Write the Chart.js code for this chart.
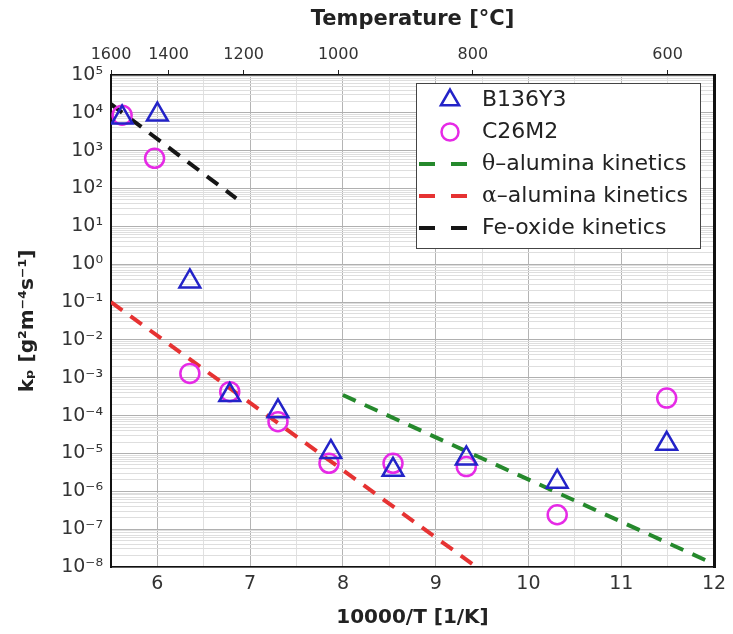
<!DOCTYPE html>
<html>
<head>
<meta charset="utf-8">
<script src="https://cdn.jsdelivr.net/npm/chart.js@4.4.1/dist/chart.umd.min.js"></script>
<style>
  html, body { margin: 0; padding: 0; background: #fff; }
  #wrap { width: 733px; height: 634px; }
</style>
</head>
<body>
<div id="wrap"><canvas id="chart"></canvas></div>
<script>
const FONT = "'DejaVu Sans', 'Liberation Sans', sans-serif";

// measured points, x = 10000/T, y = kp
const B136Y3_X = [5.62, 6.0, 6.35, 6.78, 7.3, 7.87, 8.54, 9.33, 10.31, 11.49];
const B136Y3_Y = [7.5e3, 9e3, 0.35, 3.5e-4, 1.3e-4, 1.1e-5, 3.7e-6, 7.4e-6, 1.8e-6, 1.8e-5];
const C26M2_X = [5.62, 5.97, 6.35, 6.78, 7.3, 7.85, 8.54, 9.33, 10.31, 11.49];
const C26M2_Y = [8.7e3, 630, 1.3e-3, 4.3e-4, 6.9e-5, 5.5e-6, 5.5e-6, 4.5e-6, 2.4e-7, 2.9e-4];

// kinetics lines (end points)
const THETA_X = [8.0, 12.0];
const THETA_Y = [3.5e-4, 1.2e-8];
const ALPHA_X = [5.5, 9.44];
const ALPHA_Y = [0.1, 1e-8];
const FEOX_X = [5.5, 6.85];
const FEOX_Y = [1.7e4, 55];

// top axis (temperature) labels and where they sit on the 10000/T axis
const TEMP_LABELS = ['1600', '1400', '1200', '1000', '800', '600'];
const TEMP_TICK_POS = [5.5, 6.12, 6.93, 7.95, 9.4, 11.5];

const Y_MIN_EXP = -8;
const Y_MAX_EXP = 5;

const SUP = { '0': '⁰', '1': '¹', '2': '²', '3': '³', '4': '⁴', '5': '⁵', '6': '⁶', '7': '⁷', '8': '⁸', '9': '⁹', '-': '⁻' };
const sup = (s) => String(s).split('').map((c) => SUP[c]).join('');
const xy = (xs, ys) => xs.map((x, i) => ({ x: x, y: ys[i] }));
const isDecade = (v) => {
  const e = Math.round(Math.log10(v));
  return Math.abs(v / Math.pow(10, e) - 1) < 1e-6;
};

// legend drawn inside the plot, with a box like the original
const boxLegend = {
  id: 'boxLegend',
  afterDatasetsDraw(chart) {
    const ctx = chart.ctx;
    const left = 416, top = 83, right = 700, bottom = 248;
    ctx.save();
    ctx.fillStyle = '#fff';
    ctx.fillRect(left, top, right - left, bottom - top);
    ctx.strokeStyle = '#444';
    ctx.lineWidth = 1;
    ctx.strokeRect(left + 0.5, top + 0.5, right - left, bottom - top);

    chart.data.datasets.forEach((ds, i) => {
      const cy = 100 + i * 32;
      ctx.strokeStyle = ds.borderColor;
      ctx.setLineDash([]);
      if (ds.showLine) {
        ctx.lineWidth = ds.borderWidth;
        ctx.beginPath();
        ctx.moveTo(419, cy); ctx.lineTo(435, cy);
        ctx.moveTo(451, cy); ctx.lineTo(467, cy);
        ctx.stroke();
      } else {
        ctx.fillStyle = 'rgba(0,0,0,0)';
        ctx.lineWidth = ds.pointBorderWidth;
        Chart.helpers.drawPoint(ctx, {
          pointStyle: ds.pointStyle,
          radius: ds.pointStyle === 'triangle' ? 10.5 : 8.5,
          borderWidth: ds.pointBorderWidth,
          rotation: 0
        }, 450, cy);
      }
      ctx.fillStyle = '#222';
      ctx.textBaseline = 'middle';
      let tx = 482;
      let text = ds.label;
      if (/^[θα]/.test(text)) {
        ctx.font = "22px 'DejaVu Serif', serif";
        ctx.fillText(text[0], tx, cy);
        tx += ctx.measureText(text[0]).width;
        text = text.slice(1);
      }
      ctx.font = '22px ' + FONT;
      ctx.fillText(text, tx, cy);
    });
    ctx.restore();
  }
};

new Chart(document.getElementById('chart').getContext('2d'), {
  type: 'scatter',
  data: {
    datasets: [
      {
        label: 'B136Y3',
        data: xy(B136Y3_X, B136Y3_Y),
        pointStyle: 'triangle',
        pointRadius: 12,
        pointBorderWidth: 2.5,
        borderColor: '#2323c8',
        backgroundColor: 'rgba(0,0,0,0)',
        showLine: false
      },
      {
        label: 'C26M2',
        data: xy(C26M2_X, C26M2_Y),
        pointStyle: 'circle',
        pointRadius: 9.5,
        pointBorderWidth: 2.5,
        borderColor: '#e62ae6',
        backgroundColor: 'rgba(0,0,0,0)',
        showLine: false
      },
      {
        label: 'θ–alumina kinetics',
        data: xy(THETA_X, THETA_Y),
        showLine: true,
        borderColor: '#25892c',
        borderWidth: 4,
        borderDash: [14, 10],
        pointRadius: 0
      },
      {
        label: 'α–alumina kinetics',
        data: xy(ALPHA_X, ALPHA_Y),
        showLine: true,
        borderColor: '#e63232',
        borderWidth: 4,
        borderDash: [14, 10],
        pointRadius: 0
      },
      {
        label: 'Fe-oxide kinetics',
        data: xy(FEOX_X, FEOX_Y),
        showLine: true,
        borderColor: '#151515',
        borderWidth: 4,
        borderDash: [14, 10],
        pointRadius: 0
      }
    ]
  },
  options: {
    responsive: true,
    maintainAspectRatio: false,
    animation: false,
    layout: { padding: { left: 0, right: 19, top: 0, bottom: 0 } },
    plugins: {
      legend: { display: false },
      tooltip: { enabled: false }
    },
    scales: {
      x: {
        type: 'linear',
        position: 'bottom',
        min: 5.5,
        max: 12,
        afterFit: (scale) => { scale.height = 67; },
        ticks: {
          stepSize: 0.5,
          autoSkip: false,
          maxRotation: 0,
          padding: 6,
          color: '#333',
          font: { family: FONT, size: 19 },
          callback: (v) => (Number.isInteger(v) && v >= 6 ? String(v) : '')
        },
        grid: {
          drawTicks: false,
          color: (c) => (c.tick && Number.isInteger(c.tick.value) ? '#b4b4b4' : '#e0e0e0')
        },
        border: { color: '#111', width: 1.5 },
        title: {
          display: true,
          text: '10000/T [1/K]',
          color: '#222',
          font: { family: FONT, size: 20, weight: 'bold' },
          padding: { top: 0, bottom: 4 }
        }
      },
      xTop: {
        type: 'linear',
        position: 'top',
        min: 5.5,
        max: 12,
        afterFit: (scale) => { scale.height = 75; },
        afterBuildTicks: (axis) => {
          axis.ticks = TEMP_TICK_POS.map((v) => ({ value: v }));
        },
        ticks: {
          autoSkip: false,
          maxRotation: 0,
          padding: 6,
          color: '#333',
          font: { family: FONT, size: 16 },
          callback: (v, i) => TEMP_LABELS[i]
        },
        grid: { drawOnChartArea: false, tickLength: 5, color: '#222' },
        border: { color: '#111', width: 1.5 },
        title: {
          display: true,
          text: 'Temperature [°C]',
          color: '#222',
          font: { family: FONT, size: 21, weight: 'bold' },
          padding: { top: 7, bottom: 0 }
        }
      },
      y: {
        type: 'logarithmic',
        position: 'left',
        min: Math.pow(10, Y_MIN_EXP),
        max: Math.pow(10, Y_MAX_EXP),
        afterFit: (scale) => { scale.width = 111; },
        afterBuildTicks: (axis) => {
          const ticks = [];
          for (let e = Y_MIN_EXP; e <= Y_MAX_EXP; e++) {
            for (let m = 1; m <= 9; m++) {
              if (e === Y_MAX_EXP && m > 1) break;
              ticks.push({ value: m * Math.pow(10, e) });
            }
          }
          axis.ticks = ticks;
        },
        ticks: {
          autoSkip: false,
          padding: 8,
          color: '#333',
          font: { family: FONT, size: 19 },
          callback: (v) => (isDecade(v) ? '10' + sup(Math.round(Math.log10(v))) : '')
        },
        grid: {
          drawTicks: false,
          color: (c) => (c.tick && isDecade(c.tick.value) ? '#b0b0b0' : '#dedede')
        },
        border: { color: '#111', width: 2 },
        title: {
          display: true,
          text: 'kₚ [g²m⁻⁴s⁻¹]',
          color: '#222',
          font: { family: FONT, size: 20, weight: 'bold' },
          padding: { top: 16, bottom: 0 }
        }
      },
      yRight: {
        type: 'logarithmic',
        position: 'right',
        min: Math.pow(10, Y_MIN_EXP),
        max: Math.pow(10, Y_MAX_EXP),
        afterFit: (scale) => { scale.width = 0; },
        ticks: { display: false },
        grid: { display: false },
        border: { color: '#111', width: 3 }
      }
    }
  },
  plugins: [boxLegend]
});
</script>
</body>
</html>
